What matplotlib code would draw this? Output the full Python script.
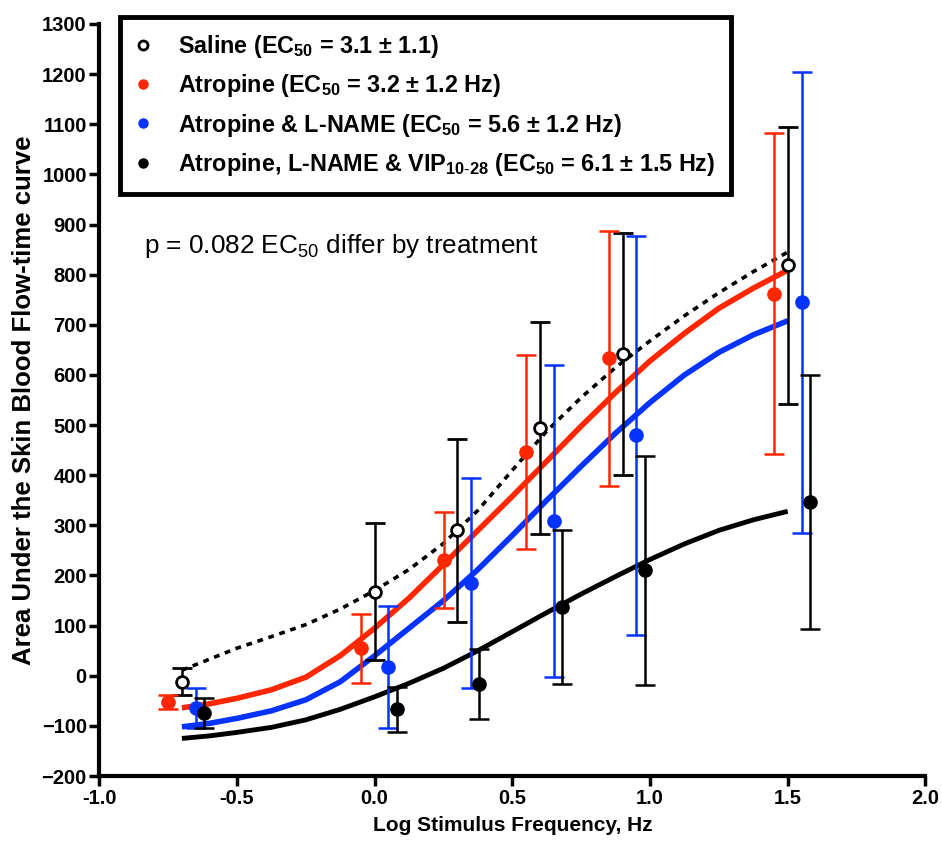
import matplotlib
matplotlib.use("Agg")
import matplotlib.pyplot as plt
import numpy as np

plt.rcParams["font.family"] = ["Liberation Sans", "DejaVu Sans"]
plt.rcParams["mathtext.fontset"] = "custom"
plt.rcParams["mathtext.rm"] = "Liberation Sans"
plt.rcParams["mathtext.bf"] = "Liberation Sans:bold"
plt.rcParams["mathtext.default"] = "rm"

RED = "#ff2600"
BLUE = "#0433ff"

# measured points (mean +/- SEM)
saline_x = [-0.70, 0.00, 0.30, 0.60, 0.90, 1.50]
saline_y = [-12, 168, 290, 494, 642, 819]
saline_err = [27, 137, 182, 211, 242, 276]

atr_x = [-0.75, -0.05, 0.25, 0.55, 0.85, 1.45]
atr_y = [-52, 55, 231, 446, 633, 762]
atr_err = [14, 69, 95, 193, 254, 320]

lname_x = [-0.65, 0.05, 0.35, 0.65, 0.95, 1.55]
lname_y = [-65, 18, 185, 308, 480, 745]
lname_err = [40, 122, 210, 311, 398, 460]

vip_x = [-0.62, 0.08, 0.38, 0.68, 0.98, 1.58]
vip_y = [-75, -67, -17, 137, 210, 347]
vip_err = [30, 45, 70, 154, 229, 253]

# fitted curves
curve_x = [-0.70, -0.60, -0.50, -0.375, -0.25, -0.125, 0.00, 0.125, 0.25, 0.375,
           0.50, 0.625, 0.75, 0.875, 1.00, 1.125, 1.25, 1.375, 1.50]
saline_fit = [11, 33, 55, 78, 102, 133, 170, 212, 264, 330,
              410, 488, 555, 615, 668, 718, 764, 806, 845]
atr_fit = [-64, -56, -45, -28, -3, 40, 95, 155, 222, 290,
           358, 428, 498, 565, 628, 683, 733, 773, 809]
lname_fit = [-102, -95, -85, -70, -48, -12, 40, 95, 150, 212,
             280, 350, 418, 484, 545, 600, 645, 680, 708]
vip_fit = [-125, -120, -113, -103, -88, -67, -42, -15, 15, 50,
           88, 126, 163, 198, 232, 263, 290, 311, 328]

labels = [
    r"Saline (EC$_{\mathbf{50}}$ = 3.1 ± 1.1)",
    r"Atropine (EC$_{\mathbf{50}}$ = 3.2 ± 1.2 Hz)",
    r"Atropine & L-NAME (EC$_{\mathbf{50}}$ = 5.6 ± 1.2 Hz)",
    r"Atropine, L-NAME & VIP$_{\mathbf{10\text{-}28}}$ (EC$_{\mathbf{50}}$ = 6.1 ± 1.5 Hz)",
]

fig = plt.figure(figsize=(9.42, 8.48), dpi=100)
ax = fig.add_axes([0.1054, 0.0849, 0.877, 0.8868])

ax.plot(curve_x, saline_fit, color="black", lw=2.6, ls=(0, (1.6, 1.6)), zorder=2)
ax.plot(curve_x, atr_fit, color=RED, lw=4.0, zorder=2, solid_capstyle="butt")
ax.plot(curve_x, lname_fit, color=BLUE, lw=4.0, zorder=2, solid_capstyle="butt")
ax.plot(curve_x, vip_fit, color="black", lw=3.5, zorder=2, solid_capstyle="butt")

eb = dict(capsize=7, elinewidth=1.8, capthick=1.8, ls="none", zorder=3)
h0 = ax.errorbar(saline_x, saline_y, yerr=saline_err, color="black", marker="o", ms=8.5,
                 mfc="white", mec="black", mew=2, **eb)
h1 = ax.errorbar(atr_x, atr_y, yerr=atr_err, color=RED, marker="o", ms=9.5, **eb)
h2 = ax.errorbar(lname_x, lname_y, yerr=lname_err, color=BLUE, marker="o", ms=9.5, **eb)
h3 = ax.errorbar(vip_x, vip_y, yerr=vip_err, color="black", marker="o", ms=9.5, **eb)

ax.set_xlim(-1.0, 2.0)
ax.set_ylim(-200, 1300)
ax.set_xticks(np.arange(-1.0, 2.01, 0.5))
ax.set_xticklabels([f"{v:.1f}" for v in np.arange(-1.0, 2.01, 0.5)])
ax.set_yticks(np.arange(-200, 1301, 100))
for s in ["top", "right"]:
    ax.spines[s].set_visible(False)
for s in ["left", "bottom"]:
    ax.spines[s].set_linewidth(3)
ax.tick_params(width=2.5, length=7, labelsize=14.5, pad=2)
for t in ax.get_xticklabels() + ax.get_yticklabels():
    t.set_fontweight("bold")

ax.set_xlabel("Log Stimulus Frequency, Hz", fontsize=15, fontweight="bold", labelpad=6)
ax.set_ylabel("Area Under the Skin Blood Flow-time curve", fontsize=18.5, fontweight="bold",
              labelpad=4)

ax.text(0.054, 0.705, r"p = 0.082 EC$_{50}$ differ by treatment", transform=ax.transAxes,
        fontsize=18.8, va="center")

handles = [h0[0], h1[0], h2[0], h3[0]]
leg = fig.legend(handles, labels, loc="upper left", bbox_to_anchor=(0.127, 0.980),
                 prop={"weight": "bold", "size": 16.8}, frameon=True, fancybox=False,
                 framealpha=1, edgecolor="black", handlelength=0.6, handletextpad=1.2,
                 labelspacing=0.52, borderpad=0.7, borderaxespad=0)
leg.get_frame().set_linewidth(3.5)
for lh in leg.legend_handles:
    lh.set_markersize(6.5)

fig.savefig("out.png", dpi=100)
